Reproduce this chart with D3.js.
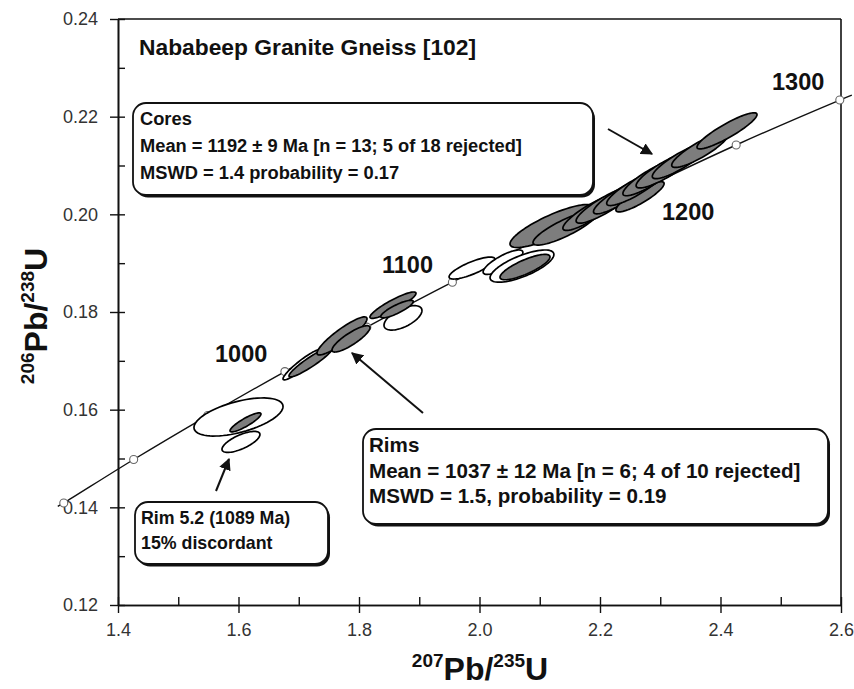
<!DOCTYPE html>
<html>
<head>
<meta charset="utf-8">
<script src="https://cdn.jsdelivr.net/npm/d3@7"></script>
<style>
  html, body { margin: 0; padding: 0; background: #fff; }
  svg { display: block; font-family: "Liberation Sans", Arial, sans-serif; }
</style>
</head>
<body>
<svg id="chart" width="854" height="689"></svg>
<script>
// ---------- DATA ----------
const xTicks = [1.4, 1.6, 1.8, 2.0, 2.2, 2.4, 2.6];
const xMinorTicks = [1.5, 1.7, 1.9, 2.1, 2.3, 2.5];
const yTicks = [0.12, 0.14, 0.16, 0.18, 0.20, 0.22, 0.24];
const yMinorTicks = [0.13, 0.15, 0.17, 0.19, 0.21, 0.23];

// concordia age markers (Ma) and their ratios
const concordiaAges = [850, 900, 950, 1000, 1050, 1100, 1150, 1200, 1250, 1300];
const concordia207 = [1.310, 1.426, 1.549, 1.677, 1.813, 1.955, 2.103, 2.260, 2.426, 2.598];
const concordia206 = [0.1409, 0.1498, 0.1588, 0.1678, 0.1769, 0.1861, 0.1952, 0.2046, 0.2142, 0.2234];
const concordiaStart = [1.300, 0.1402];
const concordiaEnd = [2.618, 0.2244];
const ageLabels = ["1000", "1100", "1200", "1300"];

// error ellipses: [207Pb/235U, 206Pb/238U, err207, err206, rho]
const coresAccepted = [
  [2.1203, 0.1976, 0.0697, 0.0044, 0.83],
  [2.1419, 0.1972, 0.0531, 0.0035, 0.85],
  [2.0755, 0.1892, 0.0415, 0.0026, 0.80],
  [2.1834, 0.2003, 0.0450, 0.0036, 0.87],
  [2.2083, 0.2019, 0.0480, 0.0037, 0.87],
  [2.2332, 0.2036, 0.0440, 0.0035, 0.87],
  [2.2664, 0.2036, 0.0400, 0.0031, 0.87],
  [2.2581, 0.2054, 0.0470, 0.0036, 0.87],
  [2.2830, 0.2074, 0.0450, 0.0036, 0.87],
  [2.3079, 0.2091, 0.0480, 0.0037, 0.87],
  [2.3328, 0.2109, 0.0460, 0.0036, 0.87],
  [2.3660, 0.2132, 0.0470, 0.0036, 0.87],
  [2.4108, 0.2171, 0.0498, 0.0037, 0.90]
];
const coresRejected = [
  [1.9875, 0.1890, 0.0380, 0.00225, 0.80],
  [2.0390, 0.1902, 0.0330, 0.0025, 0.80],
  [2.0705, 0.1894, 0.0530, 0.0033, 0.72]
];
const rimsAccepted = [
  [1.6116, 0.1574, 0.0257, 0.00195, 0.88],
  [1.7203, 0.1698, 0.0365, 0.0031, 0.93],
  [1.7718, 0.1751, 0.0415, 0.0039, 0.90],
  [1.7867, 0.1745, 0.0315, 0.0027, 0.85],
  [1.8564, 0.1814, 0.0382, 0.0027, 0.90],
  [1.8631, 0.1806, 0.0270, 0.0018, 0.85]
];
const rimsRejected = [
  [1.7054, 0.1692, 0.0315, 0.0031, 0.93],
  [1.8730, 0.1788, 0.0315, 0.0025, 0.60],
  [1.6000, 0.1585, 0.0739, 0.0039, 0.55],
  [1.6041, 0.1534, 0.0315, 0.00215, 0.70]
];

const titleText = "Nababeep Granite Gneiss [102]";
const coresText = ["Cores", "Mean = 1192 \u00B1 9 Ma [n = 13; 5 of 18 rejected]", "MSWD = 1.4 probability = 0.17"];
const rimsText = ["Rims", "Mean = 1037 \u00B1 12 Ma [n = 6; 4 of 10 rejected]", "MSWD = 1.5, probability = 0.19"];
const rim52Text = ["Rim 5.2 (1089 Ma)", "15% discordant"];

// ---------- CHART ----------
const svg = d3.select("#chart");
const x = d3.scaleLinear().domain([1.4, 2.6]).range([118, 841]);
const y = d3.scaleLinear().domain([0.12, 0.24]).range([605, 19]);

const axisColor = "#111";
const tickFont = 18;

// frame (top & right)
svg.append("line").attr("x1", x(1.4)).attr("x2", x(2.6)).attr("y1", y(0.24)).attr("y2", y(0.24))
  .attr("stroke", axisColor).attr("stroke-width", 1.6);
svg.append("line").attr("x1", x(2.6)).attr("x2", x(2.6)).attr("y1", y(0.24)).attr("y2", y(0.12))
  .attr("stroke", axisColor).attr("stroke-width", 1.6);

// X axis: outward major ticks with labels
svg.append("g").attr("transform", `translate(0,${y(0.12)})`)
  .call(d3.axisBottom(x).tickValues(xTicks).tickSize(8).tickSizeOuter(0).tickPadding(10).tickFormat(d3.format(".1f")));
svg.append("g").attr("transform", `translate(0,${y(0.12)})`)
  .call(d3.axisTop(x).tickValues(xTicks.concat(xMinorTicks)).tickSize(8).tickSizeOuter(0).tickFormat(""));

// Y axis
svg.append("g").attr("transform", `translate(${x(1.4)},0)`)
  .call(d3.axisLeft(y).tickValues(yTicks).tickSize(8).tickSizeOuter(0).tickPadding(12).tickFormat(d3.format(".2f")));
svg.append("g").attr("transform", `translate(${x(1.4)},0)`)
  .call(d3.axisRight(y).tickValues(yTicks.concat(yMinorTicks)).tickSize(7).tickSizeOuter(0).tickFormat(""));

svg.selectAll(".domain").attr("stroke", axisColor).attr("stroke-width", 1.6);
svg.selectAll(".tick line").attr("stroke", axisColor).attr("stroke-width", 1.4);
svg.selectAll(".tick text").attr("font-size", tickFont).attr("fill", "#333")
  .attr("font-family", "'Liberation Sans', Arial, sans-serif");

// axis titles
const xt = svg.append("text").attr("x", 480).attr("y", 680).attr("text-anchor", "middle")
  .attr("font-weight", "bold").attr("fill", "#111");
xt.append("tspan").attr("font-size", 19).attr("dy", -13).text("207");
xt.append("tspan").attr("font-size", 32).attr("dy", 13).text("Pb/");
xt.append("tspan").attr("font-size", 19).attr("dy", -13).text("235");
xt.append("tspan").attr("font-size", 32).attr("dy", 13).text("U");

const yt = svg.append("text").attr("transform", "translate(47,316) rotate(-90)").attr("text-anchor", "middle")
  .attr("font-weight", "bold").attr("fill", "#111");
yt.append("tspan").attr("font-size", 19).attr("dy", -13).text("206");
yt.append("tspan").attr("font-size", 32).attr("dy", 13).text("Pb/");
yt.append("tspan").attr("font-size", 19).attr("dy", -13).text("238");
yt.append("tspan").attr("font-size", 32).attr("dy", 13).text("U");

// concordia curve
const curvePts = [concordiaStart].concat(concordia207.map((v, i) => [v, concordia206[i]]), [concordiaEnd]);
svg.append("path").datum(curvePts)
  .attr("d", d3.line().x(d => x(d[0])).y(d => y(d[1])).curve(d3.curveCatmullRom))
  .attr("fill", "none").attr("stroke", "#111").attr("stroke-width", 1.4);
svg.selectAll(".age-marker").data(concordiaAges).enter().append("circle")
  .attr("class", "age-marker")
  .attr("cx", (d, i) => x(concordia207[i])).attr("cy", (d, i) => y(concordia206[i]))
  .attr("r", 4).attr("fill", "#fff").attr("stroke", "#666").attr("stroke-width", 1.1);

// ellipses
function ellipsePts(e) {
  const [cx, cy, sx, sy, rho] = e;
  const k = Math.sqrt(1 - rho * rho);
  return d3.range(72).map(i => {
    const t = i / 72 * 2 * Math.PI;
    return [cx + sx * Math.cos(t), cy + sy * (rho * Math.cos(t) + k * Math.sin(t))];
  });
}
const ell = d3.line().x(d => x(d[0])).y(d => y(d[1])).curve(d3.curveLinearClosed);
function drawEllipses(data, fill) {
  svg.append("g").selectAll("path").data(data).enter().append("path")
    .attr("d", d => ell(ellipsePts(d)))
    .attr("fill", fill).attr("stroke", "#000").attr("stroke-width", 1.7)
    .attr("stroke-linejoin", "round");
}
drawEllipses(rimsRejected, "#fff");
drawEllipses(coresRejected, "#fff");
drawEllipses(rimsAccepted, "#7d7d7d");
drawEllipses(coresAccepted, "#7d7d7d");

// age labels
const agePos = { "1000": [215, 362], "1100": [382, 273], "1200": [662, 220], "1300": [772, 90] };
ageLabels.forEach(a => {
  svg.append("text").attr("x", agePos[a][0]).attr("y", agePos[a][1])
    .attr("font-size", 23.5).attr("font-weight", "bold").attr("fill", "#111").text(a);
});

// title
svg.append("text").attr("x", 139).attr("y", 55).attr("font-size", 22.8).attr("font-weight", "bold")
  .attr("fill", "#111").text(titleText);

// annotation boxes
function box(x0, y0, x1, y1, lines, tx, firstBase, step, fs) {
  svg.append("rect").attr("x", x0 + 2).attr("y", y0 + 2.5).attr("width", x1 - x0).attr("height", y1 - y0)
    .attr("rx", 13).attr("fill", "#111");
  svg.append("rect").attr("x", x0).attr("y", y0).attr("width", x1 - x0).attr("height", y1 - y0)
    .attr("rx", 13).attr("fill", "#fff").attr("stroke", "#111").attr("stroke-width", 1.8);
  lines.forEach((t, i) => {
    svg.append("text").attr("x", tx).attr("y", firstBase + i * step)
      .attr("font-size", fs).attr("font-weight", "bold").attr("fill", "#111").text(t);
  });
}
box(133, 103, 593, 195, coresText, 140, 125, 27, 18.3);
box(363, 429, 828, 524, rimsText, 369, 452, 25.5, 20.6);
box(135, 502, 328, 564, rim52Text, 141, 524, 25, 17.8);

// arrows
const defs = svg.append("defs");
defs.append("marker").attr("id", "ah").attr("viewBox", "0 0 10 10").attr("refX", 9).attr("refY", 5)
  .attr("markerWidth", 6).attr("markerHeight", 6).attr("orient", "auto-start-reverse")
  .append("path").attr("d", "M0,0 L10,5 L0,10 z").attr("fill", "#111");
[[608, 129, 652, 154], [423, 413, 352, 353], [216, 491, 229, 459]].forEach(a => {
  svg.append("line").attr("x1", a[0]).attr("y1", a[1]).attr("x2", a[2]).attr("y2", a[3])
    .attr("stroke", "#111").attr("stroke-width", 2).attr("marker-end", "url(#ah)");
});
</script>
</body>
</html>
